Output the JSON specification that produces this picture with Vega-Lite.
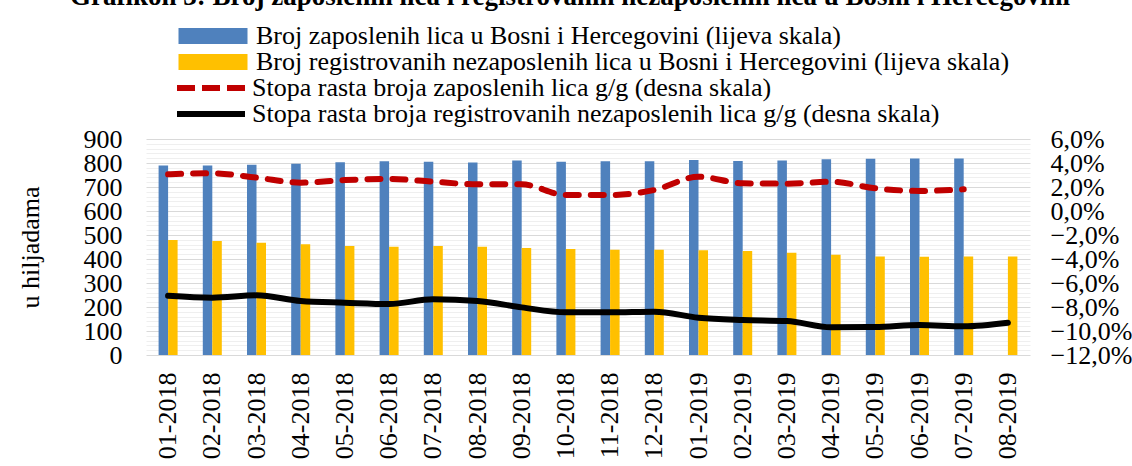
{
  "$schema": "https://vega.github.io/schema/vega-lite/v6.json",
  "width": 884,
  "height": 216,
  "autosize": {"type": "none"},
  "padding": {"left": 146, "top": 139, "right": 102, "bottom": 111},
  "background": "white",
  "title": {
    "text": "Grafikon 3: Broj zaposlenih lica i registrovanih nezaposlenih lica u Bosni i Hercegovini",
    "font": "Liberation Serif",
    "fontSize": 27,
    "fontWeight": "bold",
    "color": "black",
    "anchor": "middle",
    "dx": -18,
    "dy": -8
  },
  "datasets": {
    "bars": [
      {"mjesec": "01-2018", "serija": "Broj zaposlenih lica u Bosni i Hercegovini (lijeva skala)", "vrijednost": 790},
      {"mjesec": "02-2018", "serija": "Broj zaposlenih lica u Bosni i Hercegovini (lijeva skala)", "vrijednost": 790},
      {"mjesec": "03-2018", "serija": "Broj zaposlenih lica u Bosni i Hercegovini (lijeva skala)", "vrijednost": 793},
      {"mjesec": "04-2018", "serija": "Broj zaposlenih lica u Bosni i Hercegovini (lijeva skala)", "vrijednost": 797},
      {"mjesec": "05-2018", "serija": "Broj zaposlenih lica u Bosni i Hercegovini (lijeva skala)", "vrijednost": 803},
      {"mjesec": "06-2018", "serija": "Broj zaposlenih lica u Bosni i Hercegovini (lijeva skala)", "vrijednost": 807},
      {"mjesec": "07-2018", "serija": "Broj zaposlenih lica u Bosni i Hercegovini (lijeva skala)", "vrijednost": 805},
      {"mjesec": "08-2018", "serija": "Broj zaposlenih lica u Bosni i Hercegovini (lijeva skala)", "vrijednost": 802},
      {"mjesec": "09-2018", "serija": "Broj zaposlenih lica u Bosni i Hercegovini (lijeva skala)", "vrijednost": 810},
      {"mjesec": "10-2018", "serija": "Broj zaposlenih lica u Bosni i Hercegovini (lijeva skala)", "vrijednost": 805},
      {"mjesec": "11-2018", "serija": "Broj zaposlenih lica u Bosni i Hercegovini (lijeva skala)", "vrijednost": 807},
      {"mjesec": "12-2018", "serija": "Broj zaposlenih lica u Bosni i Hercegovini (lijeva skala)", "vrijednost": 807},
      {"mjesec": "01-2019", "serija": "Broj zaposlenih lica u Bosni i Hercegovini (lijeva skala)", "vrijednost": 812},
      {"mjesec": "02-2019", "serija": "Broj zaposlenih lica u Bosni i Hercegovini (lijeva skala)", "vrijednost": 808},
      {"mjesec": "03-2019", "serija": "Broj zaposlenih lica u Bosni i Hercegovini (lijeva skala)", "vrijednost": 810},
      {"mjesec": "04-2019", "serija": "Broj zaposlenih lica u Bosni i Hercegovini (lijeva skala)", "vrijednost": 816},
      {"mjesec": "05-2019", "serija": "Broj zaposlenih lica u Bosni i Hercegovini (lijeva skala)", "vrijednost": 818},
      {"mjesec": "06-2019", "serija": "Broj zaposlenih lica u Bosni i Hercegovini (lijeva skala)", "vrijednost": 819},
      {"mjesec": "07-2019", "serija": "Broj zaposlenih lica u Bosni i Hercegovini (lijeva skala)", "vrijednost": 819},
      {"mjesec": "01-2018", "serija": "Broj registrovanih nezaposlenih lica u Bosni i Hercegovini (lijeva skala)", "vrijednost": 479},
      {"mjesec": "02-2018", "serija": "Broj registrovanih nezaposlenih lica u Bosni i Hercegovini (lijeva skala)", "vrijednost": 475},
      {"mjesec": "03-2018", "serija": "Broj registrovanih nezaposlenih lica u Bosni i Hercegovini (lijeva skala)", "vrijednost": 468},
      {"mjesec": "04-2018", "serija": "Broj registrovanih nezaposlenih lica u Bosni i Hercegovini (lijeva skala)", "vrijednost": 461},
      {"mjesec": "05-2018", "serija": "Broj registrovanih nezaposlenih lica u Bosni i Hercegovini (lijeva skala)", "vrijednost": 454},
      {"mjesec": "06-2018", "serija": "Broj registrovanih nezaposlenih lica u Bosni i Hercegovini (lijeva skala)", "vrijednost": 451},
      {"mjesec": "07-2018", "serija": "Broj registrovanih nezaposlenih lica u Bosni i Hercegovini (lijeva skala)", "vrijednost": 454},
      {"mjesec": "08-2018", "serija": "Broj registrovanih nezaposlenih lica u Bosni i Hercegovini (lijeva skala)", "vrijednost": 451},
      {"mjesec": "09-2018", "serija": "Broj registrovanih nezaposlenih lica u Bosni i Hercegovini (lijeva skala)", "vrijednost": 446},
      {"mjesec": "10-2018", "serija": "Broj registrovanih nezaposlenih lica u Bosni i Hercegovini (lijeva skala)", "vrijednost": 442},
      {"mjesec": "11-2018", "serija": "Broj registrovanih nezaposlenih lica u Bosni i Hercegovini (lijeva skala)", "vrijednost": 439},
      {"mjesec": "12-2018", "serija": "Broj registrovanih nezaposlenih lica u Bosni i Hercegovini (lijeva skala)", "vrijednost": 439},
      {"mjesec": "01-2019", "serija": "Broj registrovanih nezaposlenih lica u Bosni i Hercegovini (lijeva skala)", "vrijednost": 436},
      {"mjesec": "02-2019", "serija": "Broj registrovanih nezaposlenih lica u Bosni i Hercegovini (lijeva skala)", "vrijednost": 433},
      {"mjesec": "03-2019", "serija": "Broj registrovanih nezaposlenih lica u Bosni i Hercegovini (lijeva skala)", "vrijednost": 426},
      {"mjesec": "04-2019", "serija": "Broj registrovanih nezaposlenih lica u Bosni i Hercegovini (lijeva skala)", "vrijednost": 418},
      {"mjesec": "05-2019", "serija": "Broj registrovanih nezaposlenih lica u Bosni i Hercegovini (lijeva skala)", "vrijednost": 410},
      {"mjesec": "06-2019", "serija": "Broj registrovanih nezaposlenih lica u Bosni i Hercegovini (lijeva skala)", "vrijednost": 409},
      {"mjesec": "07-2019", "serija": "Broj registrovanih nezaposlenih lica u Bosni i Hercegovini (lijeva skala)", "vrijednost": 410},
      {"mjesec": "08-2019", "serija": "Broj registrovanih nezaposlenih lica u Bosni i Hercegovini (lijeva skala)", "vrijednost": 410}
    ],
    "stopa_zap": [
      {"mjesec": "01-2018", "serija": "Stopa rasta broja zaposlenih lica g/g (desna skala)", "stopa": 3.06},
      {"mjesec": "02-2018", "serija": "Stopa rasta broja zaposlenih lica g/g (desna skala)", "stopa": 3.14},
      {"mjesec": "03-2018", "serija": "Stopa rasta broja zaposlenih lica g/g (desna skala)", "stopa": 2.78},
      {"mjesec": "04-2018", "serija": "Stopa rasta broja zaposlenih lica g/g (desna skala)", "stopa": 2.36},
      {"mjesec": "05-2018", "serija": "Stopa rasta broja zaposlenih lica g/g (desna skala)", "stopa": 2.58},
      {"mjesec": "06-2018", "serija": "Stopa rasta broja zaposlenih lica g/g (desna skala)", "stopa": 2.67},
      {"mjesec": "07-2018", "serija": "Stopa rasta broja zaposlenih lica g/g (desna skala)", "stopa": 2.44},
      {"mjesec": "08-2018", "serija": "Stopa rasta broja zaposlenih lica g/g (desna skala)", "stopa": 2.22},
      {"mjesec": "09-2018", "serija": "Stopa rasta broja zaposlenih lica g/g (desna skala)", "stopa": 2.22},
      {"mjesec": "10-2018", "serija": "Stopa rasta broja zaposlenih lica g/g (desna skala)", "stopa": 1.33},
      {"mjesec": "11-2018", "serija": "Stopa rasta broja zaposlenih lica g/g (desna skala)", "stopa": 1.33},
      {"mjesec": "12-2018", "serija": "Stopa rasta broja zaposlenih lica g/g (desna skala)", "stopa": 1.75},
      {"mjesec": "01-2019", "serija": "Stopa rasta broja zaposlenih lica g/g (desna skala)", "stopa": 2.86},
      {"mjesec": "02-2019", "serija": "Stopa rasta broja zaposlenih lica g/g (desna skala)", "stopa": 2.31},
      {"mjesec": "03-2019", "serija": "Stopa rasta broja zaposlenih lica g/g (desna skala)", "stopa": 2.28},
      {"mjesec": "04-2019", "serija": "Stopa rasta broja zaposlenih lica g/g (desna skala)", "stopa": 2.44},
      {"mjesec": "05-2019", "serija": "Stopa rasta broja zaposlenih lica g/g (desna skala)", "stopa": 1.89},
      {"mjesec": "06-2019", "serija": "Stopa rasta broja zaposlenih lica g/g (desna skala)", "stopa": 1.67},
      {"mjesec": "07-2019", "serija": "Stopa rasta broja zaposlenih lica g/g (desna skala)", "stopa": 1.81}
    ],
    "stopa_nezap": [
      {"mjesec": "01-2018", "serija": "Stopa rasta broja registrovanih nezaposlenih lica g/g (desna skala)", "stopa": -7.06},
      {"mjesec": "02-2018", "serija": "Stopa rasta broja registrovanih nezaposlenih lica g/g (desna skala)", "stopa": -7.22},
      {"mjesec": "03-2018", "serija": "Stopa rasta broja registrovanih nezaposlenih lica g/g (desna skala)", "stopa": -7.03},
      {"mjesec": "04-2018", "serija": "Stopa rasta broja registrovanih nezaposlenih lica g/g (desna skala)", "stopa": -7.5},
      {"mjesec": "05-2018", "serija": "Stopa rasta broja registrovanih nezaposlenih lica g/g (desna skala)", "stopa": -7.64},
      {"mjesec": "06-2018", "serija": "Stopa rasta broja registrovanih nezaposlenih lica g/g (desna skala)", "stopa": -7.75},
      {"mjesec": "07-2018", "serija": "Stopa rasta broja registrovanih nezaposlenih lica g/g (desna skala)", "stopa": -7.36},
      {"mjesec": "08-2018", "serija": "Stopa rasta broja registrovanih nezaposlenih lica g/g (desna skala)", "stopa": -7.5},
      {"mjesec": "09-2018", "serija": "Stopa rasta broja registrovanih nezaposlenih lica g/g (desna skala)", "stopa": -8.03},
      {"mjesec": "10-2018", "serija": "Stopa rasta broja registrovanih nezaposlenih lica g/g (desna skala)", "stopa": -8.44},
      {"mjesec": "11-2018", "serija": "Stopa rasta broja registrovanih nezaposlenih lica g/g (desna skala)", "stopa": -8.44},
      {"mjesec": "12-2018", "serija": "Stopa rasta broja registrovanih nezaposlenih lica g/g (desna skala)", "stopa": -8.39},
      {"mjesec": "01-2019", "serija": "Stopa rasta broja registrovanih nezaposlenih lica g/g (desna skala)", "stopa": -8.89},
      {"mjesec": "02-2019", "serija": "Stopa rasta broja registrovanih nezaposlenih lica g/g (desna skala)", "stopa": -9.08},
      {"mjesec": "03-2019", "serija": "Stopa rasta broja registrovanih nezaposlenih lica g/g (desna skala)", "stopa": -9.17},
      {"mjesec": "04-2019", "serija": "Stopa rasta broja registrovanih nezaposlenih lica g/g (desna skala)", "stopa": -9.69},
      {"mjesec": "05-2019", "serija": "Stopa rasta broja registrovanih nezaposlenih lica g/g (desna skala)", "stopa": -9.67},
      {"mjesec": "06-2019", "serija": "Stopa rasta broja registrovanih nezaposlenih lica g/g (desna skala)", "stopa": -9.5},
      {"mjesec": "07-2019", "serija": "Stopa rasta broja registrovanih nezaposlenih lica g/g (desna skala)", "stopa": -9.61},
      {"mjesec": "08-2019", "serija": "Stopa rasta broja registrovanih nezaposlenih lica g/g (desna skala)", "stopa": -9.31}
    ]
  },
  "encoding": {
    "x": {
      "field": "mjesec",
      "type": "nominal",
      "sort": ["01-2018","02-2018","03-2018","04-2018","05-2018","06-2018","07-2018","08-2018","09-2018","10-2018","11-2018","12-2018","01-2019","02-2019","03-2019","04-2019","05-2019","06-2019","07-2019","08-2019"],
      "scale": {"paddingInner": 0.57, "paddingOuter": 0.285},
      "axis": {
        "title": null,
        "labelAngle": -90,
        "labelAlign": "right",
        "labelBaseline": "middle",
        "labelPadding": 17,
        "labelFont": "Liberation Serif",
        "labelFontSize": 26,
        "labelOverlap": false,
        "ticks": false,
        "domain": false
      }
    }
  },
  "layer": [
    {
      "data": {"name": "bars"},
      "mark": {"type": "bar"},
      "encoding": {
        "xOffset": {
          "field": "serija",
          "type": "nominal",
          "sort": ["Broj zaposlenih lica u Bosni i Hercegovini (lijeva skala)", "Broj registrovanih nezaposlenih lica u Bosni i Hercegovini (lijeva skala)"],
          "scale": {"paddingInner": 0, "paddingOuter": 0}
        },
        "y": {
          "field": "vrijednost",
          "type": "quantitative",
          "scale": {"domain": [0, 900], "nice": false},
          "axis": {
            "orient": "left",
            "title": "u hiljadama",
            "titleFont": "Liberation Serif",
            "titleFontSize": 26,
            "titleFontWeight": "normal",
            "titleColor": "black",
            "titlePadding": 40,
            "values": [0,20,40,60,80,100,120,140,160,180,200,220,240,260,280,300,320,340,360,380,400,420,440,460,480,500,520,540,560,580,600,620,640,660,680,700,720,740,760,780,800,820,840,860,880,900],
            "labelExpr": "datum.value % 100 === 0 ? datum.label : ''",
            "labelFont": "Liberation Serif",
            "labelFontSize": 26,
            "labelOverlap": false,
            "labelPadding": 24,
            "ticks": false,
            "domain": false,
            "grid": true,
            "gridColor": {"condition": {"test": "datum.value % 100 === 0", "value": "#D9D9D9"}, "value": "#EFEFEF"},
            "gridWidth": 1.2
          }
        },
        "fill": {
          "field": "serija",
          "type": "nominal",
          "sort": ["Broj zaposlenih lica u Bosni i Hercegovini (lijeva skala)", "Broj registrovanih nezaposlenih lica u Bosni i Hercegovini (lijeva skala)"],
          "scale": {"range": ["#4F81BD", "#FFC000"]},
          "legend": {
            "orient": "none",
            "legendX": 54,
            "legendY": -116,
            "title": null,
            "symbolType": "M-3,-0.7H3V0.7H-3Z",
            "symbolSize": 529,
            "symbolStrokeWidth": 0,
            "labelOffset": 30,
            "rowPadding": 0,
            "padding": 0
          }
        }
      }
    },
    {
      "layer": [
        {
          "data": {"name": "stopa_zap"},
          "mark": {"type": "line", "interpolate": "monotone", "strokeWidth": 6, "strokeCap": "round", "strokeDash": [13, 12]},
          "encoding": {
            "y": {
              "field": "stopa",
              "type": "quantitative",
              "scale": {"domain": [-12, 6], "nice": false},
              "axis": {
                "orient": "right",
                "title": null,
                "values": [-12,-10,-8,-6,-4,-2,0,2,4,6],
                "labelExpr": "replace(format(datum.value, '.1f'), '.', ',') + '%'",
                "labelFont": "Liberation Serif",
                "labelFontSize": 26,
                "labelOverlap": false,
                "labelAlign": "left",
                "labelPadding": 20,
                "ticks": false,
                "domain": false,
                "grid": false
              }
            },
            "stroke": {
              "field": "serija",
              "type": "nominal",
              "scale": {"range": ["#C00000"]},
              "legend": {
                "orient": "none",
                "legendX": 52,
                "legendY": -64,
                "title": null,
                "symbolType": "M-3.4,0H3.4",
                "symbolSize": 400,
                "symbolStrokeWidth": 6,
                "symbolDash": [18, 7],
                "labelOffset": 28,
                "rowPadding": 0,
                "padding": 0
              }
            }
          }
        },
        {
          "data": {"name": "stopa_nezap"},
          "mark": {"type": "line", "interpolate": "monotone", "strokeWidth": 6, "strokeCap": "round"},
          "encoding": {
            "y": {
              "field": "stopa",
              "type": "quantitative",
              "scale": {"domain": [-12, 6], "nice": false},
              "axis": {
                "orient": "right",
                "title": null,
                "values": [-12,-10,-8,-6,-4,-2,0,2,4,6],
                "labelExpr": "replace(format(datum.value, '.1f'), '.', ',') + '%'",
                "labelFont": "Liberation Serif",
                "labelFontSize": 26,
                "labelOverlap": false,
                "labelAlign": "left",
                "labelPadding": 20,
                "ticks": false,
                "domain": false,
                "grid": false
              }
            },
            "stroke": {
              "field": "serija",
              "type": "nominal",
              "scale": {"range": ["#000000"]},
              "legend": {
                "orient": "none",
                "legendX": 52,
                "legendY": -38,
                "title": null,
                "symbolType": "M-3.4,0H3.4",
                "symbolSize": 400,
                "symbolStrokeWidth": 6,
                "labelOffset": 28,
                "rowPadding": 0,
                "padding": 0
              }
            }
          }
        }
      ],
      "resolve": {"scale": {"stroke": "independent"}, "legend": {"stroke": "independent"}}
    }
  ],
  "resolve": {"scale": {"y": "independent"}},
  "config": {
    "view": {"stroke": null},
    "axis": {
      "labelFont": "Liberation Serif",
      "labelFontSize": 26,
      "labelColor": "black"
    },
    "legend": {
      "labelFont": "Liberation Serif",
      "labelFontSize": 26,
      "labelColor": "black",
      "labelLimit": 0
    }
  }
}
